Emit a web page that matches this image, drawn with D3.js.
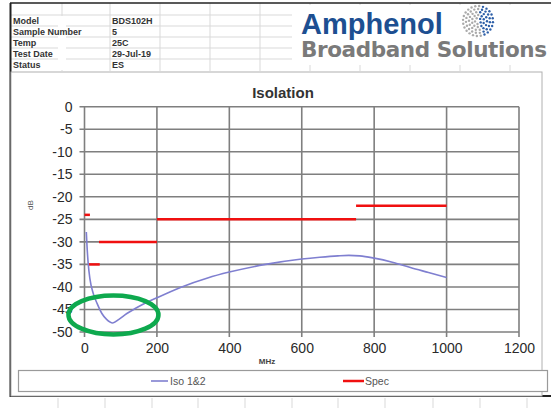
<!DOCTYPE html>
<html lang="en">
<head>
<meta charset="UTF-8">
<title>Isolation</title>
<script src="https://cdn.jsdelivr.net/npm/d3@7/dist/d3.min.js"></script>
<style>
  body { margin: 0; background: #fff; }
  svg { display: block; font-family: "Liberation Sans", Arial, sans-serif; }
</style>
</head>
<body>
<svg id="chart" width="551" height="408"></svg>
<script>
// header table
const headLabels = ["Model", "Sample Number", "Temp", "Test Date", "Status"];
const headValues = ["BDS102H", "5", "25C", "29-Jul-19", "ES"];

// axes
const xTicks = [0, 200, 400, 600, 800, 1000, 1200];
const yTicks = [0, -5, -10, -15, -20, -25, -30, -35, -40, -45, -50];

// Iso 1&2 (MHz, dB)
const isoFreq = [5, 7, 10, 15, 24, 35, 48, 61, 78, 95, 117, 140, 163, 200, 265, 340, 400, 500, 600, 650, 700, 730, 760, 800, 850, 900, 950, 1000];
const isoDb   = [-27.8, -31, -34.6, -38.2, -41.4, -43.7, -45.9, -47.2, -48, -47.2, -45.9, -44.8, -43.8, -42.4, -40.1, -38, -36.7, -35, -33.8, -33.4, -33.1, -33.0, -33.1, -33.6, -34.5, -35.7, -36.8, -37.9];

// Spec limit segments
const specStart = [0, 10, 40, 200, 750];
const specEnd   = [15, 42, 200, 750, 1000];
const specLevel = [-24, -35, -30, -25, -22];

const svg = d3.select("#chart");

// ---- spreadsheet background ----
const sheet = svg.append("g");
const colLines = [62, 110, 160, 210, 260, 310, 360, 410, 460, 510];
const rowLines = [15, 26, 37, 48, 59];
sheet.selectAll(".vl").data(colLines).enter().append("line")
  .attr("x1", d => d).attr("x2", d => d).attr("y1", 3).attr("y2", 71)
  .attr("stroke", "#d9d9d9").attr("stroke-width", 1);
sheet.selectAll(".hl").data(rowLines).enter().append("line")
  .attr("x1", 11).attr("x2", 551).attr("y1", d => d).attr("y2", d => d)
  .attr("stroke", "#d9d9d9").attr("stroke-width", 1);
// cover col line under long label
sheet.append("rect").attr("x", 58).attr("y", 16).attr("width", 8).attr("height", 54).attr("fill", "#fff");

const botLines = [58, 105, 152, 198, 245, 292, 338, 385, 433, 480, 527];
sheet.selectAll(".bl").data(botLines).enter().append("line")
  .attr("x1", d => d).attr("x2", d => d).attr("y1", 398).attr("y2", 408)
  .attr("stroke", "#d9d9d9").attr("stroke-width", 1);

// outer dark borders
svg.append("line").attr("x1", 10).attr("x2", 551).attr("y1", 3).attr("y2", 3)
  .attr("stroke", "#222").attr("stroke-width", 1.5);
svg.append("line").attr("x1", 10.5).attr("x2", 10.5).attr("y1", 3).attr("y2", 397)
  .attr("stroke", "#222").attr("stroke-width", 2);
svg.append("line").attr("x1", 10).attr("x2", 551).attr("y1", 396).attr("y2", 396)
  .attr("stroke", "#222").attr("stroke-width", 2);

// header text
headLabels.forEach((t, i) => {
  sheet.append("text").attr("x", 13).attr("y", 24 + i * 11)
    .attr("font-size", 9).attr("font-weight", "bold").attr("fill", "#333").text(t);
  sheet.append("text").attr("x", 112).attr("y", 24 + i * 11)
    .attr("font-size", 9).attr("font-weight", "bold").attr("fill", "#333").text(headValues[i]);
});

// logo
const logo = svg.append("g");
logo.append("rect").attr("x", 292).attr("y", 5).attr("width", 259).attr("height", 60).attr("fill", "#fff");
logo.append("text").attr("x", 301).attr("y", 34).attr("font-size", 29).attr("font-weight", "bold")
  .attr("fill", "#1d4f91").attr("font-family", "Liberation Sans, Arial, sans-serif").text("Amphenol");
logo.append("text").attr("x", 301).attr("y", 57).attr("font-size", 21.5).attr("font-weight", "bold")
  .attr("fill", "#7a7a7a").attr("font-family", "DejaVu Sans, sans-serif").attr("textLength", 246).text("Broadband Solutions");
// globe dots
const dots = [];
for (let r = 3; r <= 15; r += 3) {
  const n = Math.round(r * 1.6);
  for (let k = 0; k < n; k++) {
    const a = (k / n) * 2 * Math.PI + r;
    dots.push([478 + r * Math.cos(a), 21 + r * Math.sin(a), Math.cos(a) > 0.2 ? "#2d5fa8" : "#aaa"]);
  }
}
logo.selectAll("circle").data(dots).enter().append("circle")
  .attr("cx", d => d[0]).attr("cy", d => d[1]).attr("r", 1.2).attr("fill", d => d[2]);

// ---- chart frame ----
svg.append("rect").attr("x", 11).attr("y", 72).attr("width", 531).attr("height", 324)
  .attr("fill", "#fff").attr("stroke", "#b0b0b0").attr("stroke-width", 1);

const x = d3.scaleLinear().domain([0, 1200]).range([84.5, 519]);
const y = d3.scaleLinear().domain([-50, 0]).range([332, 106.7]);

// gridlines
const grid = svg.append("g");
grid.selectAll(".gy").data(yTicks).enter().append("line")
  .attr("x1", x(0) - 5).attr("x2", x(1200)).attr("y1", d => y(d)).attr("y2", d => y(d))
  .attr("stroke", "#7f7f7f").attr("stroke-width", 1.6);
grid.selectAll(".gx").data(xTicks).enter().append("line")
  .attr("x1", d => x(d)).attr("x2", d => x(d)).attr("y1", y(0)).attr("y2", y(-50) + 5)
  .attr("stroke", "#7f7f7f").attr("stroke-width", 1.6);

// axes labels
const yAxis = svg.append("g").attr("transform", `translate(${x(0) - 6},0)`)
  .call(d3.axisLeft(y).tickValues(yTicks).tickSize(0).tickPadding(6).tickFormat(d => String(d)));
const xAxis = svg.append("g").attr("transform", `translate(0,${y(-50) + 6})`)
  .call(d3.axisBottom(x).tickValues(xTicks).tickSize(0).tickPadding(5).tickFormat(d => String(d)));
[yAxis, xAxis].forEach(a => {
  a.select(".domain").remove();
  a.selectAll("text").attr("font-size", 14).attr("fill", "#2a2a2a")
    .attr("font-family", "Liberation Sans, Arial, sans-serif");
});

svg.append("text").attr("x", 283).attr("y", 98).attr("text-anchor", "middle")
  .attr("font-size", 15).attr("font-weight", "bold").attr("fill", "#333").text("Isolation");
svg.append("text").attr("x", 267).attr("y", 364).attr("text-anchor", "middle")
  .attr("font-size", 8).attr("font-weight", "bold").attr("fill", "#444").text("MHz");
svg.append("text").attr("transform", "translate(33,205) rotate(-90)").attr("text-anchor", "middle")
  .attr("font-size", 8).attr("fill", "#555").text("dB");

// spec segments
svg.append("g").selectAll("line").data(specLevel).enter().append("line")
  .attr("x1", (d, i) => x(specStart[i])).attr("x2", (d, i) => x(specEnd[i]))
  .attr("y1", d => y(d)).attr("y2", d => y(d))
  .attr("stroke", "#f01010").attr("stroke-width", 2.5);

// iso curve
const line = d3.line().x(d => x(d[0])).y(d => y(d[1])).curve(d3.curveMonotoneX);
svg.append("path").datum(isoFreq.map((f, i) => [f, isoDb[i]]))
  .attr("d", line).attr("fill", "none").attr("stroke", "#7f7fd0").attr("stroke-width", 1.6);

// highlight ellipse
svg.append("ellipse").attr("cx", x(80)).attr("cy", y(-46.2)).attr("rx", 45).attr("ry", 19.5)
  .attr("fill", "none").attr("stroke", "#0ea94e").attr("stroke-width", 4.5);

// legend
const leg = svg.append("g");
leg.append("rect").attr("x", 18.5).attr("y", 370.5).attr("width", 529).attr("height", 21)
  .attr("fill", "#fff").attr("stroke", "#9a9a9a").attr("stroke-width", 1.2);
leg.append("line").attr("x1", 151).attr("x2", 168).attr("y1", 381).attr("y2", 381)
  .attr("stroke", "#7f7fd0").attr("stroke-width", 1.6);
leg.append("text").attr("x", 170).attr("y", 385).attr("font-size", 10.5).attr("fill", "#555").text("Iso 1&2");
leg.append("line").attr("x1", 343).attr("x2", 364).attr("y1", 381).attr("y2", 381)
  .attr("stroke", "#f01010").attr("stroke-width", 2.5);
leg.append("text").attr("x", 365).attr("y", 385).attr("font-size", 10.5).attr("fill", "#555").text("Spec");
</script>
</body>
</html>
